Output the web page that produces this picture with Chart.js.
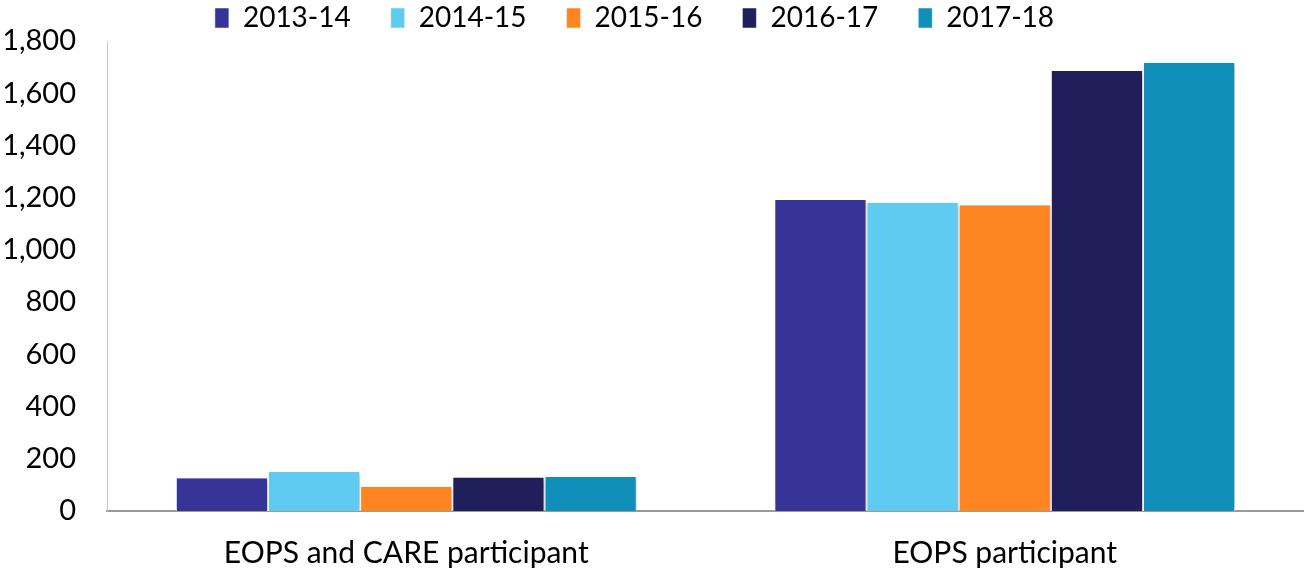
<!DOCTYPE html>
<html><head><meta charset="utf-8">
<script src="https://cdn.jsdelivr.net/npm/chart.js@4"></script>
<style>html,body{margin:0;padding:0;background:#fff;}#wrap{width:1304px;height:571px;}</style>
</head><body><div id="wrap"><canvas id="c"></canvas></div>
<script>
const categories = ["EOPS and CARE participant", "EOPS participant"];
const seriesNames = ["2013-14", "2014-15", "2015-16", "2016-17", "2017-18"];
const v2013 = [125, 1191];
const v2014 = [150, 1181];
const v2015 = [93, 1171];
const v2016 = [128, 1685];
const v2017 = [130, 1717];
const colors = ["#363497", "#5FCBF1", "#FF8522", "#201F5C", "#118FBB"];
const yTicks = [0, 200, 400, 600, 800, 1000, 1200, 1400, 1600, 1800];

const values = [v2013, v2014, v2015, v2016, v2017];
const datasets = seriesNames.map((n, i) => ({
  label: n, data: values[i], backgroundColor: colors[i],
  borderColor: "#ffffff", borderWidth: {left: 1, right: 1, top: 0, bottom: 0},
  categoryPercentage: 0.77, barPercentage: 1.0
}));

const shadowPlugin = {
  id: "barShadow",
  beforeDatasetsDraw(chart) {
    const ctx = chart.ctx;
    ctx.save();
    ctx.shadowColor = "rgba(0,0,0,0.28)";
    ctx.shadowBlur = 5;
    ctx.shadowOffsetX = 2;
    ctx.shadowOffsetY = 1;
  },
  afterDatasetsDraw(chart) { chart.ctx.restore(); }
};
const legendShift = {
  id: "legendShift",
  afterLayout(chart) {
    const lg = chart.legend;
    lg.left -= 20; lg.right -= 20;
    lg.top = -36;
  }
};

Chart.defaults.font.family = "Lato, 'Open Sans', sans-serif";
Chart.defaults.color = "#000";

new Chart(document.getElementById("c"), {
  type: "bar",
  data: { labels: categories, datasets },
  plugins: [shadowPlugin, legendShift],
  options: {
    responsive: true, maintainAspectRatio: false, animation: false,
    layout: { padding: { left: 5, right: 0, top: 0, bottom: 0 } },
    plugins: {
      legend: {
        position: "top",
        maxHeight: 41,
        labels: { boxWidth: 14, boxHeight: 20, padding: 40, font: { size: 28 }, color: "#000" }
      },
      tooltip: { enabled: false }
    },
    scales: {
      x: {
        grid: { display: false },
        border: { display: true, color: "#9a9a9a", width: 2 },
        ticks: { font: { size: 30 }, padding: 16, color: "#000" },
        afterFit: (s) => { s.height = 60; s.paddingLeft = 0; s.paddingRight = 0; }
      },
      y: {
        min: 0, max: 1800,
        afterBuildTicks: (ax) => { ax.ticks = yTicks.map(v => ({ value: v })); },
        grid: { display: false },
        border: { display: true, color: "#c8c8c8", width: 1 },
        ticks: { font: { size: 29 }, padding: 23, color: "#000",
          callback: (v) => v.toLocaleString("en-US") },
        afterFit: (s) => { s.width = 102; }
      }
    }
  }
});
</script></body></html>
